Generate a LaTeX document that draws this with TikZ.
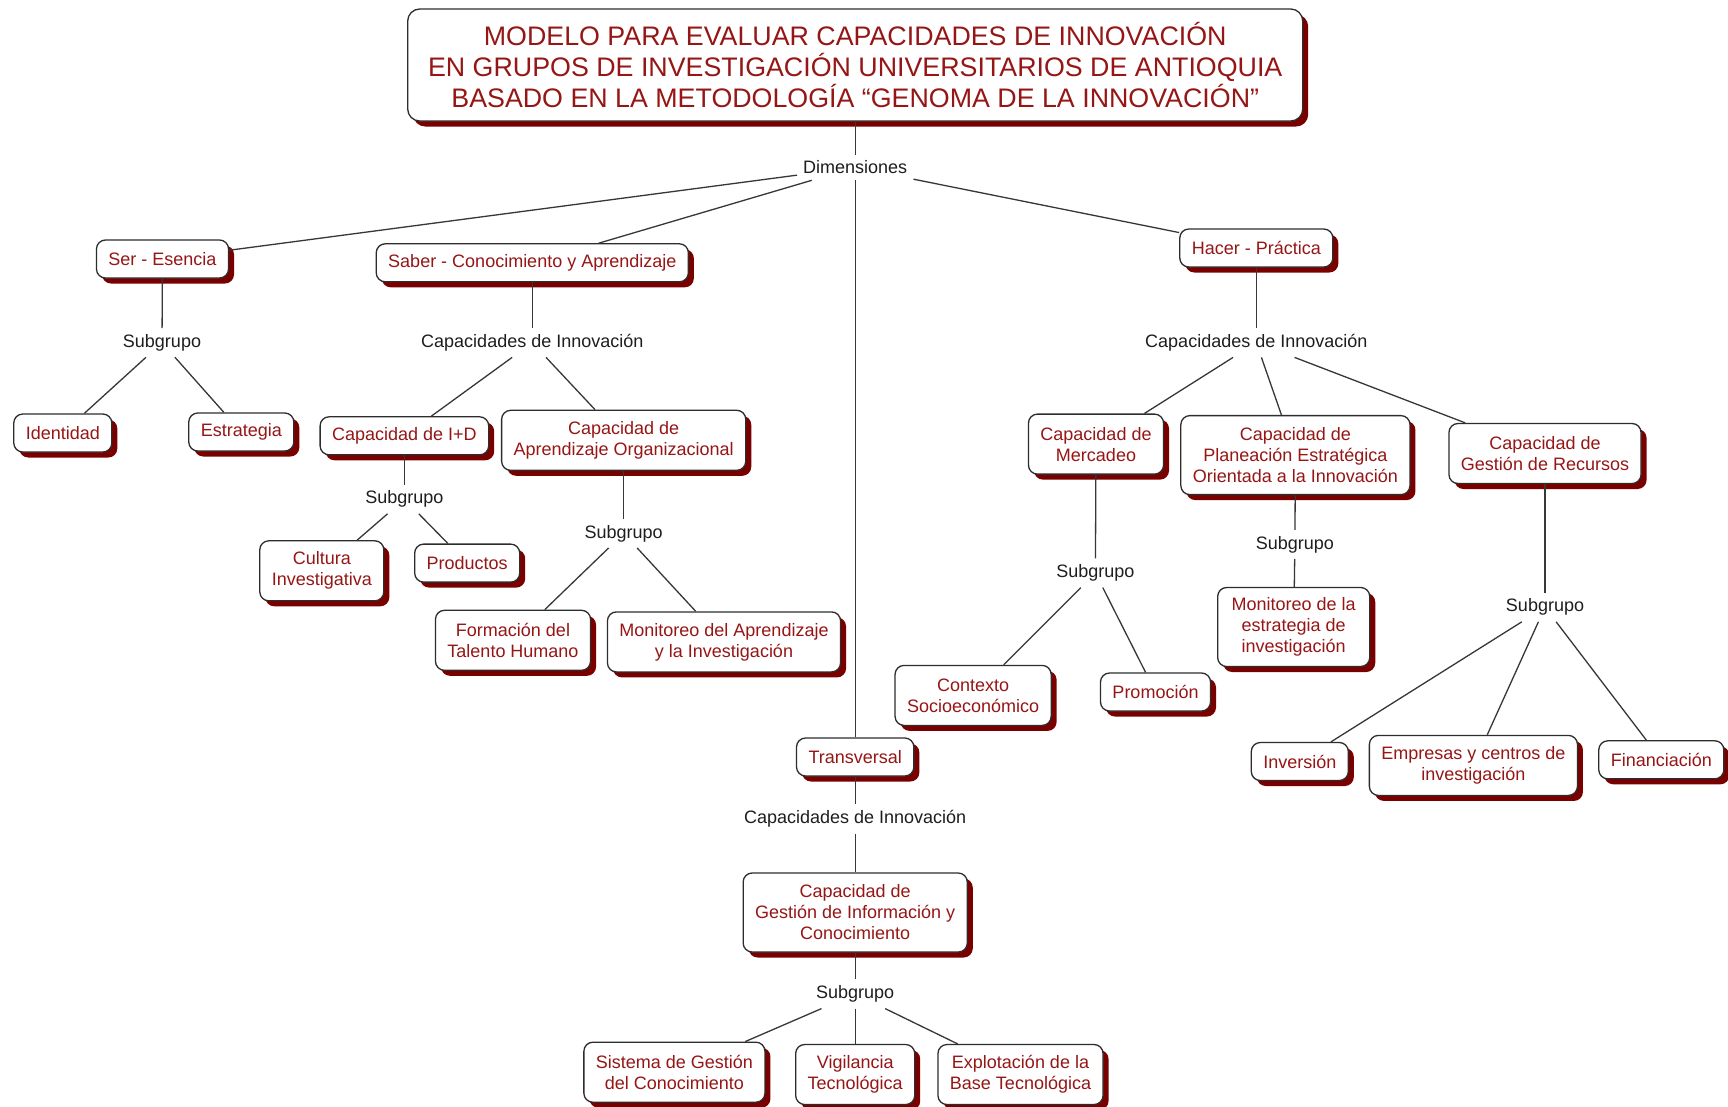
\documentclass[tikz,border=0pt]{standalone}
\usepackage{fontspec}
\setmainfont{Liberation Sans}
\usetikzlibrary{shadows}
\definecolor{boxred}{RGB}{150,22,22}
\definecolor{shadowred}{RGB}{122,0,0}
\definecolor{bordergray}{RGB}{45,45,45}
\definecolor{linegray}{RGB}{55,55,55}
\definecolor{labelgray}{RGB}{30,30,30}
\newcommand{\boxfont}{\fontsize{18}{21}\selectfont}
\newcommand{\lblfont}{\fontsize{18}{21}\selectfont}
\newcommand{\titlefont}{\fontsize{26.8}{31}\selectfont}
\tikzset{
  cbox/.style={draw=bordergray, line width=1.3pt, fill=white, rounded corners=9pt,
    text=boxred, font=\boxfont, align=center, inner xsep=12pt, inner ysep=0pt,
    minimum height=38pt,
    drop shadow={shadow xshift=5.5pt, shadow yshift=-5.5pt, fill=shadowred, opacity=1}},
  twol/.style={minimum height=60pt},
  threel/.style={minimum height=79pt},
  lbl/.style={text=labelgray, font=\lblfont, inner xsep=6pt, inner ysep=6pt},
  conn/.style={draw=linegray, line width=1.3pt}
}
\begin{document}
\begin{tikzpicture}[x=1pt,y=-1pt]
\useasboundingbox (0,0) rectangle (1728,1106);
\fill[white] (0,0) rectangle (1728,1106);

% title
\node[cbox, rounded corners=12pt, font=\titlefont, minimum width=895pt, minimum height=112pt] (title) at (855.2,65)
  {MODELO PARA EVALUAR CAPACIDADES DE INNOVACIÓN\\EN GRUPOS DE INVESTIGACIÓN UNIVERSITARIOS DE ANTIOQUIA\\BASADO EN LA METODOLOGÍA “GENOMA DE LA INNOVACIÓN”};

\node[lbl] (dim) at (855.2,167.5) {Dimensiones};

% level 1
\node[cbox] (ser) at (162.5,259) {Ser - Esencia};
\node[cbox] (saber) at (532.3,262.8) {Saber - Conocimiento y Aprendizaje};
\node[cbox] (hacer) at (1256.3,248) {Hacer - Práctica};
\node[cbox] (trans) at (855.2,757) {Transversal};

% labels
\node[lbl] (sub1) at (162,342.7) {Subgrupo};
\node[lbl] (cap1) at (532.3,342.7) {Capacidades de Innovación};
\node[lbl] (cap2) at (1256.3,342.7) {Capacidades de Innovación};
\node[lbl] (cap3) at (855.2,818.8) {Capacidades de Innovación};

% Ser children
\node[cbox] (ident) at (62.8,433) {Identidad};
\node[cbox] (estr) at (241.3,432) {Estrategia};

% Saber children
\node[cbox] (id) at (404.4,435.8) {Capacidad de I+D};
\node[cbox, twol] (apr) at (623.7,440.3) {Capacidad de\\Aprendizaje Organizacional};
\node[lbl] (sub2) at (404.4,499.2) {Subgrupo};
\node[cbox, twol] (cult) at (321.8,570.8) {Cultura\\Investigativa};
\node[cbox] (prod) at (467.2,563.1) {Productos};
\node[lbl] (sub3) at (623.7,533.4) {Subgrupo};
\node[cbox, twol] (form) at (513,640.3) {Formación del\\Talento Humano};
\node[cbox, twol] (moni) at (724,641.9) {Monitoreo del Aprendizaje\\y la Investigación};

% Hacer children
\node[cbox, twol] (merc) at (1096,444.1) {Capacidad de\\Mercadeo};
\node[cbox, threel] (plan) at (1295.4,455.1) {Capacidad de\\Planeación Estratégica\\Orientada a la Innovación};
\node[cbox, twol] (recu) at (1545,453.5) {Capacidad de\\Gestión de Recursos};
\node[lbl] (sub4) at (1095.4,573) {Subgrupo};
\node[cbox, twol] (ctx) at (973.1,695.4) {Contexto\\Socioeconómico};
\node[cbox] (promo) at (1155.5,692) {Promoción};
\node[lbl] (sub5) at (1294.9,544.4) {Subgrupo};
\node[cbox, threel, inner xsep=14pt] (mest) at (1293.7,627) {Monitoreo de la\\estrategia de\\investigación};
\node[lbl] (sub6) at (1545,607.2) {Subgrupo};
\node[cbox] (inv) at (1299.8,761.5) {Inversión};
\node[cbox, twol] (emp) at (1473.4,765.4) {Empresas y centros de\\investigación};
\node[cbox] (fin) at (1661.3,759.8) {Financiación};

% Transversal children
\node[cbox, threel] (gic) at (855.2,912.5) {Capacidad de\\Gestión de Información y\\Conocimiento};
\node[lbl] (sub7) at (855.2,994) {Subgrupo};
\node[cbox, twol] (sgc) at (674.4,1072.2) {Sistema de Gestión\\del Conocimiento};
\node[cbox, twol] (vig) at (855.2,1074.5) {Vigilancia\\Tecnológica};
\node[cbox, twol] (expl) at (1020.5,1074.5) {Explotación de la\\Base Tecnológica};

% connectors
\draw[conn] (title) -- (dim);
\draw[conn] (dim) -- (ser);
\draw[conn] (dim) -- (saber);
\draw[conn] (dim) -- (hacer);
\draw[conn] (dim) -- (trans);
\draw[conn] (ser) -- (sub1);
\draw[conn] (sub1) -- (ident);
\draw[conn] (sub1) -- (estr);
\draw[conn] (saber) -- (cap1);
\draw[conn] (cap1) -- (id);
\draw[conn] (cap1) -- (apr);
\draw[conn] (id) -- (sub2);
\draw[conn] (sub2) -- (cult);
\draw[conn] (sub2) -- (prod);
\draw[conn] (apr) -- (sub3);
\draw[conn] (sub3) -- (form);
\draw[conn] (sub3) -- (moni);
\draw[conn] (hacer) -- (cap2);
\draw[conn] (cap2) -- (merc);
\draw[conn] (cap2) -- (plan);
\draw[conn] (cap2) -- (recu);
\draw[conn] (merc) -- (sub4);
\draw[conn] (sub4) -- (ctx);
\draw[conn] (sub4) -- (promo);
\draw[conn] (plan) -- (sub5);
\draw[conn] (sub5) -- (mest);
\draw[conn] (recu) -- (sub6);
\draw[conn] (sub6) -- (inv);
\draw[conn] (sub6) -- (emp);
\draw[conn] (sub6) -- (fin);
\draw[conn] (trans) -- (cap3);
\draw[conn] (cap3) -- (gic);
\draw[conn] (gic) -- (sub7);
\draw[conn] (sub7) -- (sgc);
\draw[conn] (sub7) -- (vig);
\draw[conn] (sub7) -- (expl);
\end{tikzpicture}
\end{document}
